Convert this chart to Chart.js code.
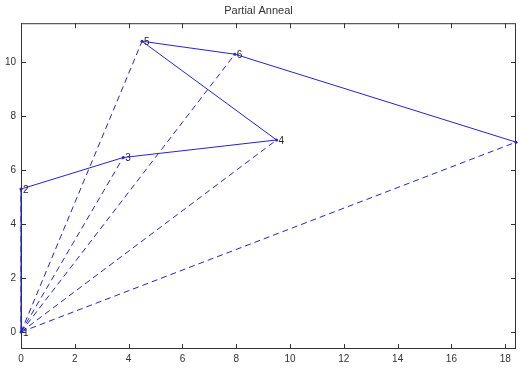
<!DOCTYPE html>
<html>
<head>
<meta charset="utf-8">
<script src="https://cdn.jsdelivr.net/npm/chart.js@4"></script>
<style>
    html, body { margin: 0; padding: 0; background: #ffffff; }
    #wrap { width: 520px; height: 368px; }
</style>
</head>
<body>
<div id="wrap"><canvas id="annealChart"></canvas></div>
<script>
// ================= DATA =================

const pointNames = ["1", "2", "3", "4", "5", "6", "7"];
const pointX = [0, 0, 3.8, 9.5, 4.5, 7.95, 18.4];
const pointY = [0, 5.3, 6.47, 7.12, 10.78, 10.3, 7.04];

// spokes from point 1 drawn dashed
const spokeTargets = [1, 2, 3, 4, 5, 6];

const xTicks = [0, 2, 4, 6, 8, 10, 12, 14, 16, 18];
const yTicks = [0, 2, 4, 6, 8, 10];

const lineBlue = "#2323d6";

const points = pointX.map((x, i) => ({ x: x, y: pointY[i] }));

const datasets = [{
    label: "tour",
    data: points,
    borderColor: lineBlue,
    backgroundColor: lineBlue,
    borderWidth: 1,
    pointRadius: 1.5,
    pointBorderWidth: 0,
    tension: 0,
    clip: 2
}];

spokeTargets.forEach(k => {
    datasets.push({
        label: "spoke " + pointNames[k],
        data: [points[0], points[k]],
        borderColor: lineBlue,
        borderWidth: 1,
        borderDash: [6, 4],
        pointRadius: 0,
        tension: 0,
        clip: 2
    });
});

// ================= PLUGINS =================

// MATLAB style box with inward ticks, drawn under the lines
const boxPlugin = {
    id: "boxPlugin",
    beforeDatasetsDraw(chart) {
        const { ctx, chartArea: a, scales } = chart;
        ctx.save();
        ctx.strokeStyle = "#333333";
        ctx.lineWidth = 1;
        ctx.strokeRect(a.left + 0.5, a.top + 0.5, a.right - a.left - 1, a.bottom - a.top - 1);
        ctx.beginPath();
        xTicks.forEach(v => {
            const px = Math.round(scales.x.getPixelForValue(v)) + 0.5;
            ctx.moveTo(px, a.bottom);
            ctx.lineTo(px, a.bottom - 5);
            ctx.moveTo(px, a.top);
            ctx.lineTo(px, a.top + 5);
        });
        yTicks.forEach(v => {
            const py = Math.round(scales.y.getPixelForValue(v)) + 0.5;
            ctx.moveTo(a.left, py);
            ctx.lineTo(a.left + 5, py);
            ctx.moveTo(a.right, py);
            ctx.lineTo(a.right - 5, py);
        });
        ctx.stroke();
        ctx.restore();
    }
};

// number next to each point, clipped to the plot box
const labelPlugin = {
    id: "labelPlugin",
    afterDatasetsDraw(chart) {
        const { ctx, scales, chartArea: a } = chart;
        ctx.save();
        ctx.beginPath();
        ctx.rect(a.left, a.top, a.right - a.left, a.bottom - a.top);
        ctx.clip();
        ctx.font = "10px Arial, 'Liberation Sans', sans-serif";
        ctx.fillStyle = "#222222";
        ctx.textAlign = "left";
        ctx.textBaseline = "middle";
        points.forEach((p, i) => {
            const px = scales.x.getPixelForValue(p.x);
            const py = scales.y.getPixelForValue(p.y);
            ctx.fillText(pointNames[i], px + 2, py + 1);
        });
        ctx.restore();
    }
};

// ================= CHART =================

const annealChart = new Chart(document.getElementById("annealChart"), {
    type: "scatter",

    data: {
        datasets: datasets
    },

    options: {
        responsive: true,
        maintainAspectRatio: false,
        animation: false,
        showLine: true,

        layout: {
            padding: { left: 0, right: 3, top: 0, bottom: 0 }
        },

        plugins: {
            legend: { display: false },
            tooltip: { enabled: false },
            title: {
                display: true,
                text: "Partial Anneal",
                color: "#333333",
                font: { family: "Arial, 'Liberation Sans', sans-serif", size: 11, weight: "normal" },
                padding: { top: 4, bottom: 6 }
            }
        },

        scales: {
            x: {
                type: "linear",
                min: 0,
                max: 18.4,
                afterBuildTicks: scale => { scale.ticks = xTicks.map(v => ({ value: v })); },
                afterFit: scale => { scale.height = 19; },
                grid: { display: false, drawTicks: false },
                border: { display: false },
                ticks: {
                    color: "#333333",
                    padding: 4,
                    maxRotation: 0,
                    font: { family: "Arial, 'Liberation Sans', sans-serif", size: 10 }
                }
            },

            y: {
                type: "linear",
                min: -0.63,
                max: 11.45,
                afterBuildTicks: scale => { scale.ticks = yTicks.map(v => ({ value: v })); },
                afterFit: scale => { scale.width = 21; },
                grid: { display: false, drawTicks: false },
                border: { display: false },
                ticks: {
                    color: "#333333",
                    padding: 5,
                    font: { family: "Arial, 'Liberation Sans', sans-serif", size: 10 }
                }
            }
        }
    },

    plugins: [boxPlugin, labelPlugin]
});
</script>
</body>
</html>
